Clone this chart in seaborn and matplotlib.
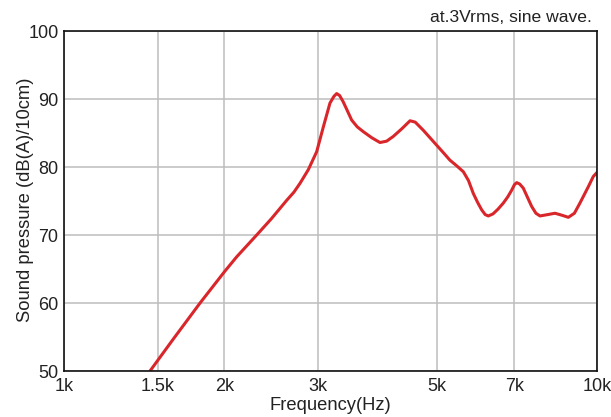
import matplotlib
matplotlib.use("Agg")
import matplotlib.pyplot as plt
import seaborn as sns
import pandas as pd
from matplotlib.ticker import FixedLocator, NullLocator

freq_hz = [1450, 1600, 1800, 2000, 2109, 2299, 2450, 2617, 2700, 2772, 2873, 2979,
           3066, 3155, 3210, 3248, 3290, 3340, 3400, 3465, 3550, 3643, 3780, 3916,
           4030, 4148, 4300, 4459, 4560, 4722, 5003, 5150, 5298, 5450, 5614, 5740,
           5861, 5970, 6076, 6170, 6252, 6380, 6520, 6672, 6800, 6918, 7000, 7069,
           7160, 7272, 7400, 7541, 7680, 7817, 8080, 8341, 8600, 8836, 9070, 9290,
           9632, 9840, 10000]
spl_db = [50.0, 54.6, 60.0, 64.6, 66.8, 70.0, 72.4, 75.1, 76.3, 77.6, 79.6, 82.25,
          85.9, 89.4, 90.4, 90.8, 90.5, 89.6, 88.3, 86.9, 85.9, 85.2, 84.3, 83.6,
          83.8, 84.5, 85.6, 86.8, 86.6, 85.4, 83.2, 82.1, 81.0, 80.2, 79.3, 78.0,
          76.1, 74.8, 73.7, 73.0, 72.8, 73.1, 73.8, 74.7, 75.6, 76.6, 77.4, 77.7,
          77.5, 76.9, 75.6, 74.2, 73.2, 72.8, 73.0, 73.2, 72.9, 72.6, 73.2, 74.7,
          77.1, 78.6, 79.2]

x_ticks = [1000, 1500, 2000, 3000, 5000, 7000, 10000]
x_tick_labels = ["1k", "1.5k", "2k", "3k", "5k", "7k", "10k"]
y_ticks = [50, 60, 70, 80, 90, 100]

sns.set_style("white")
plt.rcParams['font.family'] = ['Liberation Sans', 'DejaVu Sans']

fig = plt.figure(figsize=(6.11, 4.17), dpi=100)
ax = fig.add_axes([64/611, 1-371/417, (597-64)/611, (371-31)/417])

df = pd.DataFrame({"f": freq_hz, "db": spl_db})
sns.lineplot(data=df, x="f", y="db", ax=ax, color="#d9262b", linewidth=2.2,
             sort=False, estimator=None)
for l in ax.get_lines():
    l.set_solid_joinstyle("round")

ax.set_xscale("log")
ax.set_xlim(1000, 10000)
ax.set_ylim(50, 100)
ax.xaxis.set_major_locator(FixedLocator(x_ticks))
ax.xaxis.set_minor_locator(NullLocator())
ax.set_xticklabels(x_tick_labels)
ax.set_yticks(y_ticks)
ax.grid(True, color="#bdbdbd", linewidth=1.1)
ax.set_axisbelow(True)
ax.tick_params(axis="x", length=0, labelsize=13, colors="#222222", pad=5)
ax.tick_params(axis="y", length=0, labelsize=13, colors="#222222", pad=4)
for s in ax.spines.values():
    s.set_color("#111111")
    s.set_linewidth(1.2)

ax.set_xlabel("Frequency(Hz)", fontsize=13.2, color="#222222")
ax.xaxis.set_label_coords(0.499, -0.1)
ax.set_ylabel("Sound pressure (dB(A)/10cm)", fontsize=13.2, color="#222222")
ax.yaxis.set_label_coords(-0.073, 0.504)
ax.xaxis.label.set_verticalalignment("center")
ax.yaxis.label.set_verticalalignment("center")
fig.text(592/611, 1-18/417, "at.3Vrms, sine wave.", ha="right", va="center",
         fontsize=12.6, color="#222222")

fig.savefig("out.png", dpi=100)
